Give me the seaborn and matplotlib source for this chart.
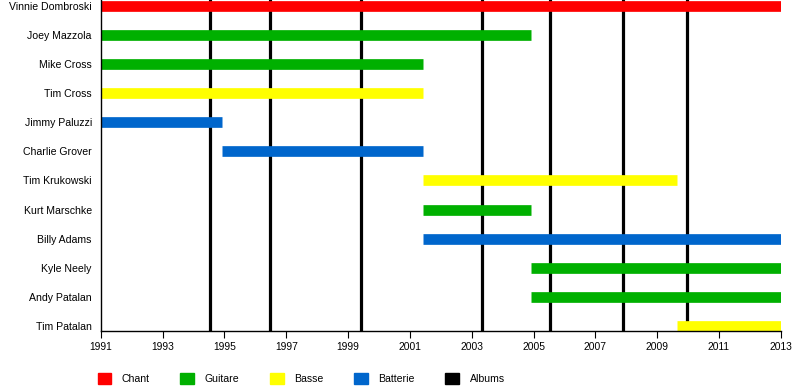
import pandas as pd
import matplotlib
matplotlib.use("Agg")
import matplotlib.pyplot as plt
from matplotlib.patches import Patch
import seaborn as sns

members = ["Vinnie Dombroski", "Joey Mazzola", "Mike Cross", "Tim Cross",
           "Jimmy Paluzzi", "Charlie Grover", "Tim Krukowski", "Kurt Marschke",
           "Billy Adams", "Kyle Neely", "Andy Patalan", "Tim Patalan"]
roles = ["Chant", "Guitare", "Guitare", "Basse",
         "Batterie", "Batterie", "Basse", "Guitare",
         "Batterie", "Guitare", "Guitare", "Basse"]
starts = [1991, 1991, 1991, 1991, 1991, 1994.91, 2001.42, 2001.42,
          2001.42, 2004.91, 2004.91, 2009.63]
ends = [2013, 2004.91, 2001.42, 2001.42, 1994.91, 2001.42, 2009.63, 2004.91,
        2013, 2013, 2013, 2013]
albums = [1994.53, 1996.47, 1999.41, 2003.33, 2005.53, 2007.89, 2009.96]
year_ticks = list(range(1991, 2014, 2))

palette = {"Chant": "#ff0000", "Guitare": "#00b000", "Basse": "#ffff00",
           "Batterie": "#0066cc"}

rows = []
for i, (m, r, s, e) in enumerate(zip(members, roles, starts, ends)):
    rows.append({"member": m, "role": r, "year": s, "pos": i})
    rows.append({"member": m, "role": r, "year": e, "pos": i})
df = pd.DataFrame(rows)

sns.set_theme(style="white")
plt.rcParams["font.family"] = ["Liberation Sans", "DejaVu Sans"]
plt.rcParams["text.color"] = "black"
plt.rcParams["xtick.color"] = "black"
plt.rcParams["ytick.color"] = "black"

fig = plt.figure(figsize=(8, 3.9), dpi=100)
ax = fig.add_axes([0.126, 0.1525, 0.85, 0.8475])

for a in albums:
    ax.axvline(a, color="black", linewidth=2.3, zorder=1)

sns.lineplot(data=df, x="year", y="pos", hue="role", units="member",
             estimator=None, sort=False, palette=palette, linewidth=7.7,
             solid_capstyle="butt", legend=False, ax=ax, zorder=2)

ax.set_xlim(1991, 2013)
ax.set_ylim(11.17, -0.22)
ax.set_yticks(range(len(members)))
ax.set_yticklabels(members, fontsize=7.6)
ax.set_xticks(year_ticks)
ax.set_xticklabels([str(y) for y in year_ticks], fontsize=7.4)
ax.tick_params(axis="x", bottom=True, direction="out", length=5,
               width=0.8, color="black", pad=3)
ax.tick_params(axis="y", left=False, length=0, pad=6.5)
ax.set_xlabel("")
ax.set_ylabel("")
for side in ["top", "right"]:
    ax.spines[side].set_visible(False)
for side in ["left", "bottom"]:
    ax.spines[side].set_color("black")
    ax.spines[side].set_linewidth(1.0)

handles = [Patch(color=palette[k], label=k) for k in palette]
handles.append(Patch(color="black", label="Albums"))
fig.legend(handles=handles, loc="lower left", bbox_to_anchor=(0.11, -0.01),
           ncol=5, frameon=False, fontsize=7.6, handlelength=1.3,
           handleheight=1.3, handletextpad=1.0, columnspacing=2.9)

fig.savefig("out.png", dpi=100)
